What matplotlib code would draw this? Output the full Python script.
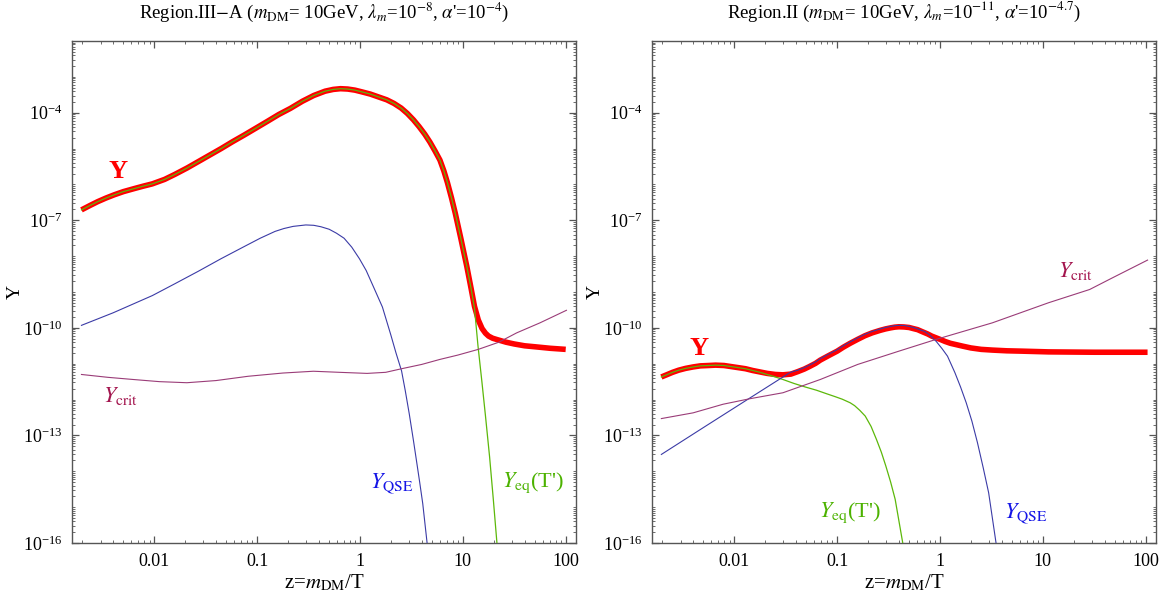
import numpy as np
import matplotlib
matplotlib.use("Agg")
import matplotlib.pyplot as plt
from matplotlib.ticker import FixedLocator, FixedFormatter, LogLocator, NullFormatter

plt.rcParams["font.family"] = ["Liberation Serif", "DejaVu Serif"]
plt.rcParams["mathtext.fontset"] = "stix"

# ─── Data (log10 z, log10 Y) ────────────────────────────────────────────────
# Left panel: Region III-A
a_Y_logz = [-2.708, -2.62, -2.55, -2.47, -2.39, -2.3, -2.2, -2.11, -2.02, -1.9, -1.8,
            -1.68, -1.57, -1.46, -1.35, -1.24, -1.124, -1.0, -0.9, -0.79, -0.677,
            -0.56, -0.45, -0.34, -0.26, -0.19, -0.12, -0.05, 0.02, 0.1, 0.18, 0.26,
            0.33, 0.40, 0.46, 0.52, 0.575, 0.63, 0.68, 0.73, 0.777, 0.815, 0.85,
            0.89, 0.926, 0.98, 1.038, 1.08, 1.113, 1.15, 1.187, 1.22, 1.25, 1.29,
            1.336, 1.42, 1.5, 1.6, 1.709, 1.85, 2.0]
a_Y_logy = [-6.71, -6.58, -6.48, -6.38, -6.29, -6.20, -6.12, -6.05, -5.985, -5.86, -5.72,
            -5.54, -5.36, -5.18, -5.00, -4.81, -4.62, -4.41, -4.24, -4.05, -3.88,
            -3.68, -3.52, -3.40, -3.35, -3.33, -3.34, -3.37, -3.42, -3.48, -3.56, -3.64,
            -3.74, -3.87, -4.02, -4.20, -4.39, -4.60, -4.82, -5.07, -5.32, -5.62, -5.95,
            -6.38, -6.80, -7.50, -8.28, -8.90, -9.40, -9.78, -10.02, -10.15, -10.23, -10.29,
            -10.33, -10.40, -10.45, -10.50, -10.53, -10.57, -10.60]

a_eq_logz = [-2.708, -2.62, -2.55, -2.47, -2.39, -2.3, -2.2, -2.11, -2.02, -1.9, -1.8,
             -1.68, -1.57, -1.46, -1.35, -1.24, -1.124, -1.0, -0.9, -0.79, -0.677,
             -0.56, -0.45, -0.34, -0.26, -0.19, -0.12, -0.05, 0.02, 0.1, 0.18, 0.26,
             0.33, 0.40, 0.46, 0.52, 0.575, 0.63, 0.68, 0.73, 0.777, 0.815, 0.85,
             0.89, 0.926, 0.98, 1.038, 1.08, 1.113, 1.147, 1.185, 1.22, 1.26, 1.296, 1.34]
a_eq_logy = [-6.71, -6.58, -6.48, -6.38, -6.29, -6.20, -6.12, -6.05, -5.985, -5.86, -5.72,
             -5.54, -5.36, -5.18, -5.00, -4.81, -4.62, -4.41, -4.24, -4.05, -3.88,
             -3.68, -3.52, -3.40, -3.35, -3.33, -3.34, -3.37, -3.42, -3.48, -3.56, -3.64,
             -3.74, -3.87, -4.02, -4.20, -4.39, -4.60, -4.82, -5.07, -5.32, -5.62, -5.95,
             -6.38, -6.80, -7.50, -8.28, -8.90, -9.45, -10.50, -11.50, -12.46, -13.60,
             -14.78, -16.30]

a_qse_logz = [-2.708, -2.4, -2.019, -1.8, -1.571, -1.35, -1.124, -0.97, -0.826, -0.74,
              -0.65, -0.527, -0.45, -0.38, -0.3, -0.229, -0.155, -0.08, -0.006, 0.06,
              0.13, 0.218, 0.30, 0.35, 0.404, 0.44, 0.479, 0.52, 0.554, 0.58, 0.61, 0.66]
a_qse_logy = [-9.93, -9.58, -9.10, -8.77, -8.42, -8.07, -7.73, -7.50, -7.31, -7.23,
              -7.17, -7.13, -7.14, -7.18, -7.25, -7.36, -7.50, -7.75, -8.07, -8.40,
              -8.85, -9.42, -10.20, -10.70, -11.20, -11.75, -12.40, -13.15, -13.80,
              -14.30, -14.90, -16.20]

a_crit_logz = [-2.708, -2.45, -2.205, -1.95, -1.683, -1.4, -1.087, -0.75, -0.453,
               -0.2, 0.069, 0.25, 0.404, 0.6, 0.777, 0.95, 1.150, 1.35, 1.523, 1.75, 2.007]
a_crit_logy = [-11.30, -11.38, -11.44, -11.50, -11.53, -11.47, -11.35, -11.26, -11.21,
               -11.24, -11.27, -11.24, -11.14, -11.02, -10.88, -10.76, -10.60, -10.40,
               -10.14, -9.86, -9.51]

# Right panel: Region II
b_Y_logz = [-2.709, -2.65, -2.6, -2.54, -2.473, -2.4, -2.33, -2.25, -2.182, -2.1, -2.03,
            -1.96, -1.891, -1.82, -1.75, -1.68, -1.6, -1.527, -1.45, -1.382, -1.32, -1.27,
            -1.21, -1.164, -1.08, -1.0, -0.94, -0.873, -0.8, -0.73, -0.66, -0.582, -0.53,
            -0.48, -0.44, -0.4, -0.35, -0.3, -0.26, -0.218, -0.17, -0.12, -0.08, -0.036,
            0.0, 0.05, 0.1, 0.145, 0.22, 0.3, 0.4, 0.509, 0.65, 0.8, 1.055, 1.5, 2.018]
b_Y_logy = [-11.37, -11.30, -11.24, -11.18, -11.13, -11.09, -11.06, -11.05, -11.04, -11.05,
            -11.08, -11.11, -11.14, -11.19, -11.23, -11.27, -11.30, -11.31, -11.29, -11.22,
            -11.15, -11.08, -10.99, -10.90, -10.77, -10.65, -10.54, -10.43, -10.32, -10.22,
            -10.14, -10.07, -10.03, -10.00, -9.98, -9.97, -9.975, -9.99, -10.02, -10.05,
            -10.11, -10.17, -10.23, -10.28, -10.32, -10.38, -10.43, -10.46, -10.51, -10.56,
            -10.60, -10.62, -10.64, -10.65, -10.67, -10.68, -10.68]

b_eq_logz = [-2.709, -2.65, -2.6, -2.54, -2.473, -2.4, -2.33, -2.25, -2.182, -2.1, -2.03,
             -1.96, -1.891, -1.82, -1.75, -1.68, -1.6, -1.527, -1.42, -1.309, -1.2, -1.1,
             -1.018, -0.95, -0.873, -0.83, -0.78, -0.727, -0.67, -0.618, -0.57, -0.527,
             -0.48, -0.436, -0.35]
b_eq_logy = [-11.37, -11.30, -11.24, -11.18, -11.13, -11.09, -11.06, -11.05, -11.04, -11.05,
             -11.08, -11.11, -11.14, -11.19, -11.24, -11.30, -11.37, -11.44, -11.55, -11.65,
             -11.74, -11.84, -11.92, -11.99, -12.09, -12.17, -12.30, -12.46, -12.75, -13.11,
             -13.47, -13.85, -14.30, -14.78, -16.20]

b_qse_logz = [-2.709, -2.3, -1.9, -1.455, -1.382, -1.32, -1.27, -1.21, -1.164, -1.08,
              -1.0, -0.94, -0.873, -0.8, -0.73, -0.66, -0.582, -0.53, -0.48, -0.44, -0.4,
              -0.35, -0.3, -0.26, -0.218, -0.15, -0.1, -0.036, 0.02, 0.073, 0.145, 0.2,
              0.255, 0.31, 0.364, 0.42, 0.473, 0.55]
b_qse_logy = [-13.53, -12.78, -12.05, -11.24, -11.18, -11.11, -11.04, -10.95, -10.86, -10.73,
              -10.61, -10.50, -10.39, -10.28, -10.18, -10.10, -10.03, -9.99, -9.96, -9.94,
              -9.93, -9.935, -9.96, -9.99, -10.03, -10.10, -10.20, -10.38, -10.58, -10.79,
              -11.25, -11.65, -12.09, -12.60, -13.20, -13.90, -14.60, -16.10]

b_crit_logz = [-2.709, -2.4, -2.109, -1.855, -1.527, -1.164, -0.8, -0.4, -0.036, 0.509,
               1.055, 1.455, 1.673, 2.018]
b_crit_logy = [-12.53, -12.37, -12.13, -11.98, -11.81, -11.44, -11.02, -10.65, -10.32,
               -9.86, -9.30, -8.93, -8.61, -8.11]

titles = [r"Region.III$-$A ($m_{\rm DM}$= 10GeV, $\lambda_m$=10$^{-8}$, $\alpha$'=10$^{-4}$)",
          r"Region.II ($m_{\rm DM}$= 10GeV, $\lambda_m$=10$^{-11}$, $\alpha$'=10$^{-4.7}$)"]

x_ticks = [0.01, 0.1, 1, 10, 100]
x_ticklabels = ["0.01", "0.1", "1", "10", "100"]
y_ticks = [1e-16, 1e-13, 1e-10, 1e-7, 1e-4]

# ─── Style ───────────────────────────────────────────────────────────────────
C_RED = "#ff0000"
C_GREEN = "#5cb80a"
C_BLUE = "#3b3ba6"
C_CRIT = "#9a3c78"
C_CRIT_TXT = "#a3154e"
C_QSE_TXT = "#1515e6"
C_EQ_TXT = "#4cb200"
C_AX = "#555555"


def p(v):
    return 10.0 ** np.asarray(v)


def style_axes(ax, title):
    ax.set_xscale("log")
    ax.set_yscale("log")
    ax.set_xlim(10 ** -2.8, 10 ** 2.1)
    ax.set_ylim(1e-16, 1e-2)
    ax.xaxis.set_major_locator(FixedLocator(x_ticks))
    ax.xaxis.set_major_formatter(FixedFormatter(x_ticklabels))
    ax.xaxis.set_minor_locator(LogLocator(base=10, subs=np.arange(2, 10), numticks=50))
    ax.xaxis.set_minor_formatter(NullFormatter())
    ax.yaxis.set_major_locator(FixedLocator(y_ticks))
    ax.yaxis.set_minor_locator(LogLocator(base=10, subs=np.arange(1, 10), numticks=100))
    ax.yaxis.set_minor_formatter(NullFormatter())
    ax.tick_params(which="both", direction="in", top=True, right=True,
                   color=C_AX, labelsize=13, labelcolor="black")
    ax.tick_params(which="major", length=5, width=0.9, pad=7)
    ax.tick_params(which="minor", length=2.5, width=0.6)
    for sp in ax.spines.values():
        sp.set_color(C_AX)
        sp.set_linewidth(1.0)
    ax.set_xlabel(r"z=$m_{\rm DM}$/T", fontsize=15)
    ax.xaxis.set_label_coords(0.5, -0.058)
    ax.xaxis.label.set_va("top")
    ax.set_ylabel("Y", fontsize=14)
    ax.yaxis.set_label_coords(-0.113, 0.5)
    ax.yaxis.label.set_va("center")
    ax.text(0.5, 1.058, title, transform=ax.transAxes, ha="center", va="center",
            fontsize=13.5)


fig = plt.figure(figsize=(11.64, 6.08), dpi=100)
ax1 = fig.add_axes([72 / 1164, 65 / 608, 504 / 1164, 502 / 608])
ax2 = fig.add_axes([652 / 1164, 65 / 608, 504 / 1164, 502 / 608])

# ── Left panel ──
ax1.plot(p(a_Y_logz), p(a_Y_logy), color=C_RED, lw=4.0, solid_capstyle="butt", zorder=2)
ax1.plot(p(a_eq_logz), p(a_eq_logy), color=C_GREEN, lw=0.9, zorder=3)
ax1.plot(p(a_qse_logz), p(a_qse_logy), color=C_BLUE, lw=0.8, zorder=3)
ax1.plot(p(a_crit_logz), p(a_crit_logy), color=C_CRIT, lw=0.8, zorder=3)
ax1.text(10 ** -2.35, 10 ** -5.64, "Y", color=C_RED, fontsize=19, fontweight="bold",
         ha="center", va="center")
ax1.text(10 ** -2.50, 10 ** -11.9, r"$Y_{\rm crit}$", color=C_CRIT_TXT, fontsize=16,
         ha="left", va="center")
ax1.text(10 ** 0.10, 10 ** -14.32, r"$Y_{\rm QSE}$", color=C_QSE_TXT, fontsize=16,
         ha="left", va="center")
ax1.text(10 ** 1.38, 10 ** -14.32, r"$Y_{\rm eq}$(T')", color=C_EQ_TXT, fontsize=16,
         ha="left", va="center")
style_axes(ax1, titles[0])

# ── Right panel ──
ax2.plot(p(b_Y_logz), p(b_Y_logy), color=C_RED, lw=4.0, solid_capstyle="butt", zorder=2)
ax2.plot(p(b_eq_logz), p(b_eq_logy), color=C_GREEN, lw=0.9, zorder=3)
ax2.plot(p(b_qse_logz), p(b_qse_logy), color=C_BLUE, lw=0.8, zorder=3)
ax2.plot(p(b_crit_logz), p(b_crit_logy), color=C_CRIT, lw=0.8, zorder=3)
ax2.text(10 ** -2.345, 10 ** -10.57, "Y", color=C_RED, fontsize=19, fontweight="bold",
         ha="center", va="center")
ax2.text(10 ** 1.145, 10 ** -8.42, r"$Y_{\rm crit}$", color=C_CRIT_TXT, fontsize=16,
         ha="left", va="center")
ax2.text(10 ** 0.618, 10 ** -15.16, r"$Y_{\rm QSE}$", color=C_QSE_TXT, fontsize=16,
         ha="left", va="center")
ax2.text(10 ** -1.175, 10 ** -15.16, r"$Y_{\rm eq}$(T')", color=C_EQ_TXT, fontsize=16,
         ha="left", va="center")
style_axes(ax2, titles[1])

fig.savefig("out.png", dpi=100)
